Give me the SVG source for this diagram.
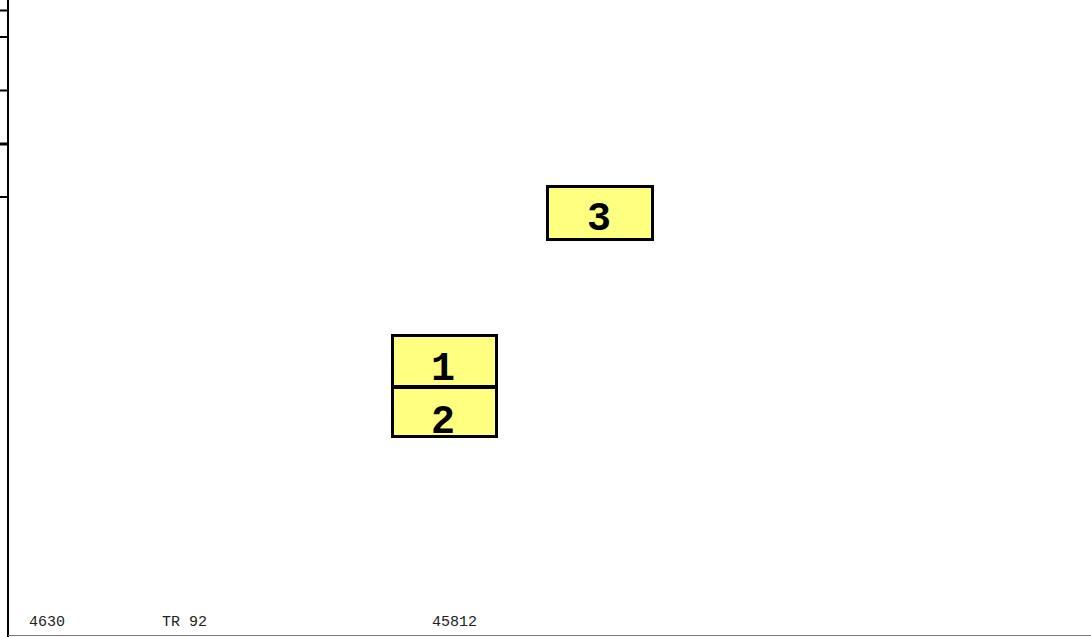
<svg xmlns="http://www.w3.org/2000/svg" width="1091" height="637" viewBox="0 0 1091 637">
<style>
.box{fill:#ffff80;stroke:#000;stroke-width:3}
.num{font-family:"Liberation Mono",monospace;font-weight:bold;font-size:40px;fill:#000;text-anchor:middle}
.lbl{font-family:"Liberation Mono",monospace;font-size:15px;fill:#222}
.axis{stroke:#000;stroke-width:2}
</style>
<rect width="1091" height="637" fill="#fff"/>
<g id="frame">
<line class="axis" x1="8" y1="0" x2="8" y2="637"/>
<line class="axis" x1="0" y1="10.5" x2="8" y2="10.5"/>
<line class="axis" x1="0" y1="37" x2="8" y2="37"/>
<line class="axis" x1="0" y1="90.5" x2="8" y2="90.5"/>
<line x1="0" y1="144" x2="8" y2="144" stroke="#000" stroke-width="3"/>
<line class="axis" x1="0" y1="197" x2="8" y2="197"/>
<line x1="8" y1="635.5" x2="1091" y2="635.5" stroke="#777" stroke-width="1"/>
</g>
<g id="node3">
<rect class="box" x="547.5" y="186.5" width="105" height="53"/>
<text class="num" x="599" y="230">3</text>
</g>
<g id="node1">
<rect class="box" x="392.5" y="335.5" width="104" height="51"/>
<text class="num" x="443" y="380">1</text>
</g>
<g id="node2">
<rect class="box" x="392.5" y="387.5" width="104" height="49"/>
<text class="num" x="443" y="433">2</text>
</g>
<g id="labels">
<text class="lbl" x="29" y="626">4630</text>
<text class="lbl" x="162" y="626">TR 92</text>
<text class="lbl" x="432" y="626">45812</text>
</g>
<g id="connectors"/>
</svg>
